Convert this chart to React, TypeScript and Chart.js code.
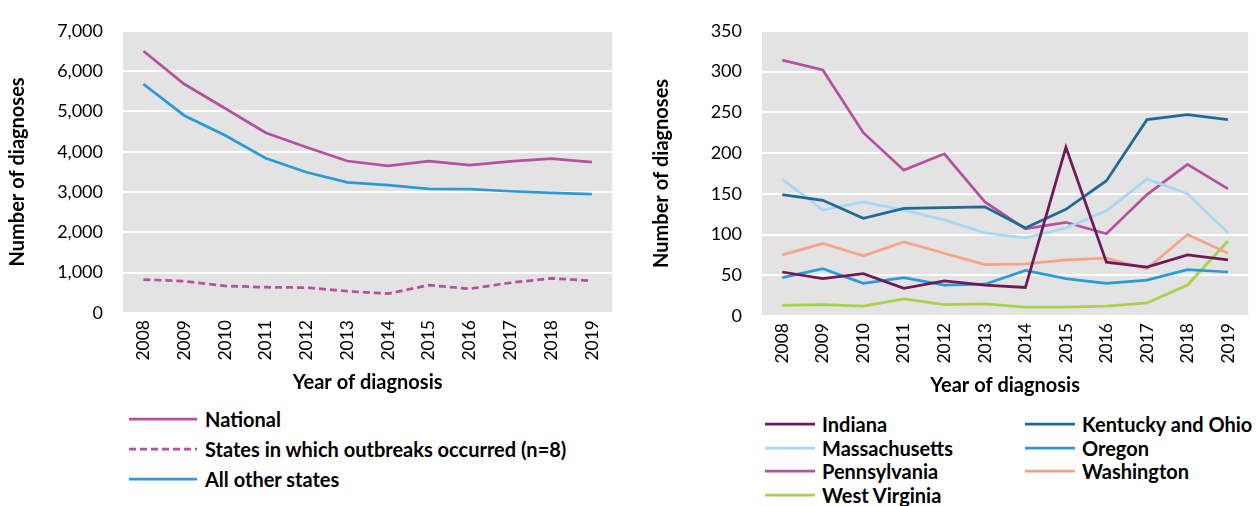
import React, { useEffect, useRef } from 'react';
import { Chart, registerables } from 'chart.js';

Chart.register(...registerables);

// ---------- data ----------
const years = ['2008', '2009', '2010', '2011', '2012', '2013', '2014', '2015', '2016', '2017', '2018', '2019'];

const national = [6500, 5680, 5080, 4470, 4110, 3770, 3650, 3770, 3670, 3760, 3830, 3740];
const outbreakStates = [830, 790, 670, 640, 630, 540, 480, 690, 600, 750, 860, 800];
const otherStates = [5680, 4900, 4410, 3840, 3490, 3240, 3170, 3080, 3070, 3020, 2980, 2950];

const indiana = [54, 46, 52, 34, 43, 38, 35, 207, 66, 60, 75, 69];
const kentuckyOhio = [149, 142, 120, 132, 133, 134, 108, 131, 166, 241, 247, 241];
const massachusetts = [168, 130, 140, 130, 118, 102, 96, 108, 129, 168, 150, 102];
const oregon = [47, 58, 40, 47, 38, 39, 56, 46, 40, 44, 57, 54];
const pennsylvania = [314, 302, 225, 179, 199, 140, 107, 115, 101, 149, 186, 156];
const washington = [75, 89, 74, 91, 77, 63, 64, 69, 71, 58, 100, 77];
const westVirginia = [13, 14, 12, 21, 14, 15, 11, 11, 12, 16, 38, 92];

const leftYTicks = [0, 1000, 2000, 3000, 4000, 5000, 6000, 7000];
const rightYTicks = [0, 50, 100, 150, 200, 250, 300, 350];

// ---------- styles ----------
const FONT = 'Lato, "Noto Sans", sans-serif';
const C_NATIONAL = '#B6519F';
const C_OTHER = '#2C9AD7';
const C_INDIANA = '#6E1A5A';
const C_KY = '#1F6A96';
const C_MA = '#A8D8F3';
const C_OR = '#2C9AD7';
const C_PA = '#B6519F';
const C_WA = '#F8A385';
const C_WV = '#A9D04A';

const plotBg = {
  id: 'plotBg',
  beforeDraw(chart: any) {
    const { ctx, chartArea: a } = chart;
    ctx.save();
    ctx.fillStyle = '#E3E3E3';
    ctx.fillRect(a.left, a.top, a.right - a.left, a.bottom - a.top);
    ctx.restore();
  },
};

const tickFont = { family: FONT, size: 17.5 };
const yTickFont = { family: FONT, size: 18 };
const titleFont = { family: FONT, size: 20, weight: 'bold' as const };

function makeOptions(opts: {
  yMax: number;
  step: number;
  yWidth: number;
  yTitlePad: number;
  xHeight: number;
  xTitlePad: number;
  padding: any;
  fmt: (v: number) => string;
}) {
  return {
    responsive: false,
    animation: false as const,
    layout: { padding: opts.padding },
    plugins: { legend: { display: false }, tooltip: { enabled: false } },
    elements: { point: { radius: 0 }, line: { tension: 0, borderWidth: 2.75 } },
    scales: {
      x: {
        offset: true,
        grid: { display: false, drawTicks: false },
        border: { display: false },
        ticks: {
          minRotation: 90,
          maxRotation: 90,
          autoSkip: false,
          padding: 7,
          font: tickFont,
          color: '#000',
        },
        title: {
          display: true,
          text: 'Year of diagnosis',
          font: titleFont,
          color: '#000',
          padding: { top: 0, bottom: opts.xTitlePad },
        },
        afterFit: (s: any) => {
          s.height = opts.xHeight;
        },
      },
      y: {
        min: 0,
        max: opts.yMax,
        grid: { color: '#FFFFFF', lineWidth: 2, drawTicks: false },
        border: { display: false },
        ticks: {
          stepSize: opts.step,
          padding: 20,
          font: yTickFont,
          color: '#000',
          callback: (v: any) => opts.fmt(Number(v)),
        },
        title: {
          display: true,
          text: 'Number of diagnoses',
          font: titleFont,
          color: '#000',
          padding: { top: opts.yTitlePad, bottom: 0 },
        },
        afterFit: (s: any) => {
          s.width = opts.yWidth;
        },
      },
    },
  };
}

function LeftChart() {
  const ref = useRef<HTMLCanvasElement>(null);
  useEffect(() => {
    const chart = new Chart(ref.current as HTMLCanvasElement, {
      type: 'line',
      data: {
        labels: years,
        datasets: [
          { label: 'National', data: national, borderColor: C_NATIONAL, backgroundColor: C_NATIONAL },
          {
            label: 'States in which outbreaks occurred (n=8)',
            data: outbreakStates,
            borderColor: C_NATIONAL,
            backgroundColor: C_NATIONAL,
            borderDash: [7, 4],
          },
          { label: 'All other states', data: otherStates, borderColor: C_OTHER, backgroundColor: C_OTHER },
        ],
      },
      options: makeOptions({
        yMax: leftYTicks[leftYTicks.length - 1],
        step: leftYTicks[1] - leftYTicks[0],
        yWidth: 123,
        yTitlePad: 6,
        xHeight: 85,
        xTitlePad: 3,
        padding: { top: 27, right: 2, bottom: 2, left: 0 },
        fmt: (v) => v.toLocaleString('en-US'),
      }) as any,
      plugins: [plotBg],
    });
    return () => chart.destroy();
  }, []);
  return <canvas ref={ref} width={620} height={400} style={{ position: 'absolute', left: 0, top: 0 }} />;
}

function RightChart() {
  const ref = useRef<HTMLCanvasElement>(null);
  useEffect(() => {
    const chart = new Chart(ref.current as HTMLCanvasElement, {
      type: 'line',
      data: {
        labels: years,
        datasets: [
          { label: 'Indiana', data: indiana, borderColor: C_INDIANA, backgroundColor: C_INDIANA },
          { label: 'Kentucky and Ohio', data: kentuckyOhio, borderColor: C_KY, backgroundColor: C_KY },
          { label: 'Massachusetts', data: massachusetts, borderColor: C_MA, backgroundColor: C_MA },
          { label: 'Oregon', data: oregon, borderColor: C_OR, backgroundColor: C_OR },
          { label: 'Pennsylvania', data: pennsylvania, borderColor: C_PA, backgroundColor: C_PA },
          { label: 'Washington', data: washington, borderColor: C_WA, backgroundColor: C_WA },
          { label: 'West Virginia', data: westVirginia, borderColor: C_WV, backgroundColor: C_WV },
        ],
      },
      options: makeOptions({
        yMax: rightYTicks[rightYTicks.length - 1],
        step: rightYTicks[1] - rightYTicks[0],
        yWidth: 132,
        yTitlePad: 20,
        xHeight: 84,
        xTitlePad: 2,
        padding: { top: 22, right: 0, bottom: 0, left: 0 },
        fmt: (v) => String(v),
      }) as any,
      plugins: [plotBg],
    });
    return () => chart.destroy();
  }, []);
  return <canvas ref={ref} width={626} height={400} style={{ position: 'absolute', left: 630, top: 0 }} />;
}

type LegendItem = { label: string; color: string; dash?: boolean };

function LegendEntry({ item, x, y, lineW, gap }: { item: LegendItem; x: number; y: number; lineW: number; gap: number }) {
  return (
    <div
      style={{
        position: 'absolute',
        left: x,
        top: y - 13,
        height: 26,
        display: 'flex',
        alignItems: 'center',
        whiteSpace: 'nowrap',
        fontFamily: FONT,
        fontWeight: 'bold',
        fontSize: 20,
        color: '#000',
      }}
    >
      <svg width={lineW} height={6} style={{ marginRight: gap, display: 'block' }}>
        <line
          x1={0}
          y1={3}
          x2={lineW}
          y2={3}
          stroke={item.color}
          strokeWidth={2.75}
          strokeDasharray={item.dash ? '7 4' : undefined}
        />
      </svg>
      <span>{item.label}</span>
    </div>
  );
}

const leftLegend: LegendItem[] = [
  { label: 'National', color: C_NATIONAL },
  { label: 'States in which outbreaks occurred (n=8)', color: C_NATIONAL, dash: true },
  { label: 'All other states', color: C_OTHER },
];

const rightLegend: LegendItem[] = [
  { label: 'Indiana', color: C_INDIANA },
  { label: 'Kentucky and Ohio', color: C_KY },
  { label: 'Massachusetts', color: C_MA },
  { label: 'Oregon', color: C_OR },
  { label: 'Pennsylvania', color: C_PA },
  { label: 'Washington', color: C_WA },
  { label: 'West Virginia', color: C_WV },
];

export default function App() {
  return (
    <div style={{ position: 'fixed', left: 0, top: 0, width: 1256, height: 506, background: '#fff', overflow: 'hidden' }}>
      <LeftChart />
      <RightChart />
      {leftLegend.map((it, i) => (
        <LegendEntry key={it.label} item={it} x={129} y={419 + i * 30} lineW={68} gap={8} />
      ))}
      {rightLegend.map((it, i) => (
        <LegendEntry
          key={it.label}
          item={it}
          x={i % 2 === 0 ? 765 : 1025}
          y={424 + Math.floor(i / 2) * 23.5}
          lineW={50}
          gap={7}
        />
      ))}
    </div>
  );
}
